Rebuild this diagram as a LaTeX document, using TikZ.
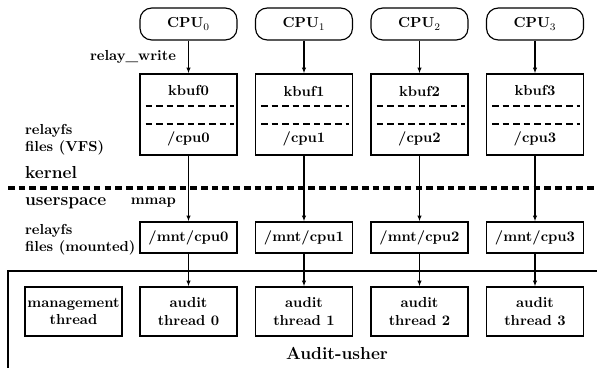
\documentclass[tikz,border=0pt]{standalone}
\usetikzlibrary{arrows.meta}

\tikzset{
	cpubox/.style={draw,line width=0.8pt,rounded corners=8pt,minimum width=66.9pt,minimum height=22pt},
	bufbox/.style={draw,line width=0.8pt,minimum width=66.9pt,minimum height=55.9pt},
	mntbox/.style={draw,line width=0.8pt,minimum width=66.9pt,minimum height=21.4pt},
	thrbox/.style={draw,line width=0.8pt,minimum width=66.9pt,minimum height=33.8pt,align=center,inner sep=1pt},
	arr/.style={-{Latex[length=4pt,width=3pt]},line width=0.8pt},
	sepline/.style={dash pattern=on 4.5pt off 2.8pt,line width=0.8pt},
	kline/.style={dash pattern=on 4.6pt off 2.8pt,line width=2.8pt}
}

\begin{document}
\begin{tikzpicture}[x=0.69pt,y=-0.69pt,font=\bfseries]
	\clip (0,0) rectangle (597,368);

	% CPUs, buffers, mounted files and threads
	\foreach \i [evaluate=\i as \xc using 188.5+115.5*\i] in {0,...,3} {
		\node[cpubox] (cpu\i) at (\xc,24) {CPU$_\i$};
		\node[bufbox] (kbuf\i) at (\xc,114.5) {};
		\node (kname\i) at (\xc,91) {kbuf\i};
		\node (vfs\i) at (\xc,139) {/cpu\i};
		\draw[sepline] (\xc-43,106) -- (\xc+45,106);
		\draw[sepline] (\xc-43,124) -- (\xc+45,124);
		\node[mntbox] (mnt\i) at (\xc,237.5) {/mnt/cpu\i};
		\node[thrbox] (thr\i) at (\xc,311.5) {audit\\thread \i};
		\draw[arr] (cpu\i) -- (kbuf\i);
		\draw[arr] (kbuf\i) -- (mnt\i);
		\draw[arr] (mnt\i) -- (thr\i);
	}
	\node[thrbox] (mgmt) at (73.5,311.5) {management\\thread};

	% kernel / userspace border
	\draw[kline] (8,188) -- (605,188);

	% audit-usher frame
	\draw[line width=0.8pt] (8,400) -- (8,271) -- (620,271);
	\node[font=\large\bfseries] (usher) at (337,353) {Audit-usher};

	% left labels
	\node[anchor=east] (wlabel) at (181,57) {relay\_write};
	\node[anchor=east] (mlabel) at (181,203) {mmap};
	\node[anchor=west,align=left] (vfslabel) at (20,140) {relayfs\\files (VFS)};
	\node[anchor=west,font=\large\bfseries] (klabel) at (20,173) {kernel};
	\node[anchor=west,font=\large\bfseries] (ulabel) at (20,203) {userspace};
	\node[anchor=west,align=left] (mntlabel) at (20,239.5) {relayfs\\files (mounted)};
\end{tikzpicture}
\end{document}
